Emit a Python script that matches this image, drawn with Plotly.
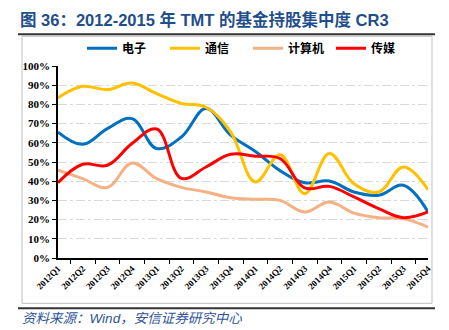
import plotly.graph_objects as go

quarters = ["2012Q1", "2012Q2", "2012Q3", "2012Q4", "2013Q1", "2013Q2", "2013Q3", "2013Q4",
            "2014Q1", "2014Q2", "2014Q3", "2014Q4", "2015Q1", "2015Q2", "2015Q3", "2015Q4"]

dianzi = [0.656, 0.592, 0.674, 0.726, 0.570, 0.630, 0.778, 0.640,
          0.555, 0.455, 0.392, 0.401, 0.344, 0.327, 0.379, 0.240]
tongxin = [0.835, 0.894, 0.877, 0.911, 0.856, 0.805, 0.785, 0.656,
           0.396, 0.538, 0.335, 0.544, 0.387, 0.344, 0.474, 0.356]
jisuanji = [0.457, 0.413, 0.367, 0.495, 0.413, 0.368, 0.344, 0.314,
            0.306, 0.300, 0.240, 0.292, 0.234, 0.210, 0.205, 0.161]
chuanmei = [0.392, 0.488, 0.483, 0.596, 0.672, 0.415, 0.474, 0.540,
            0.530, 0.518, 0.365, 0.373, 0.318, 0.257, 0.210, 0.240]

series = [("电子", dianzi, "#0070C0"),
          ("通信", tongxin, "#FFC000"),
          ("计算机", jisuanji, "#F4B183"),
          ("传媒", chuanmei, "#FF0000")]

fig = go.Figure()
for name, vals, color in series:
    fig.add_trace(go.Scatter(x=quarters, y=vals, name=name, mode="lines",
                             line=dict(color=color, width=3, shape="spline", smoothing=1.1)))

L, R, T, B = 58, 21, 65.7, 72.3
W, H = 449, 330
pw, ph = W - L - R, H - T - B

def px(x):
    return (x - L) / pw

def py(y):
    return (H - B - y) / ph

fig.update_layout(
    width=W, height=H,
    margin=dict(l=L, r=R, t=T, b=B),
    paper_bgcolor="white", plot_bgcolor="white",
    showlegend=True,
    legend=dict(orientation="h", x=px(82), y=py(48), xanchor="left", yanchor="middle",
                font=dict(family="Noto Sans CJK SC", size=12, color="black", weight="bold"),
                itemwidth=30, entrywidth=38, bgcolor="rgba(0,0,0,0)", traceorder="normal"),
    title=dict(text="<b>图 36：2012-2015 年 TMT 的基金持股集中度 CR3</b>",
               x=20 / W, xanchor="left", y=1 - 20 / H, yanchor="middle",
               font=dict(family="Liberation Sans, Noto Sans CJK SC", size=16.5, color="#1F4E8C")),
)

fig.update_xaxes(type="category", tickson="boundaries", ticks="outside", ticklen=4,
                 tickcolor="black", tickangle=-45, showline=True, linecolor="black",
                 linewidth=1.5, showgrid=False, zeroline=False,
                 tickfont=dict(family="Liberation Serif", size=9, color="black", weight="bold"))
fig.update_yaxes(range=[0, 1.0], dtick=0.1, tickformat=".0%", ticks="outside", ticklen=4,
                 tickcolor="black", showline=True, linecolor="black", linewidth=1.5,
                 showgrid=True, gridcolor="#D9D9D9", griddash="dashdot", gridwidth=1,
                 zeroline=False,
                 tickfont=dict(family="Liberation Serif", size=11, color="black", weight="bold"))

# decorative frame and rules
fig.add_shape(type="rect", xref="paper", yref="paper", x0=px(22), x1=px(432), y0=py(303), y1=py(36),
              line=dict(color="#BFBFBF", width=1), layer="below")
fig.add_shape(type="line", xref="paper", yref="paper", x0=px(18), x1=px(435), y0=py(34), y1=py(34),
              line=dict(color="#333333", width=2))
fig.add_shape(type="line", xref="paper", yref="paper", x0=px(18), x1=px(435), y0=py(308), y1=py(308),
              line=dict(color="#333333", width=2))

fig.add_annotation(text="<i>资料来源：Wind，安信证券研究中心</i>", xref="paper", yref="paper",
                   x=px(20), y=py(318), xanchor="left", yanchor="middle", showarrow=False,
                   font=dict(family="Liberation Sans, Noto Sans CJK SC", size=13.5, color="#2F5597"))

fig.write_html("out.html")
